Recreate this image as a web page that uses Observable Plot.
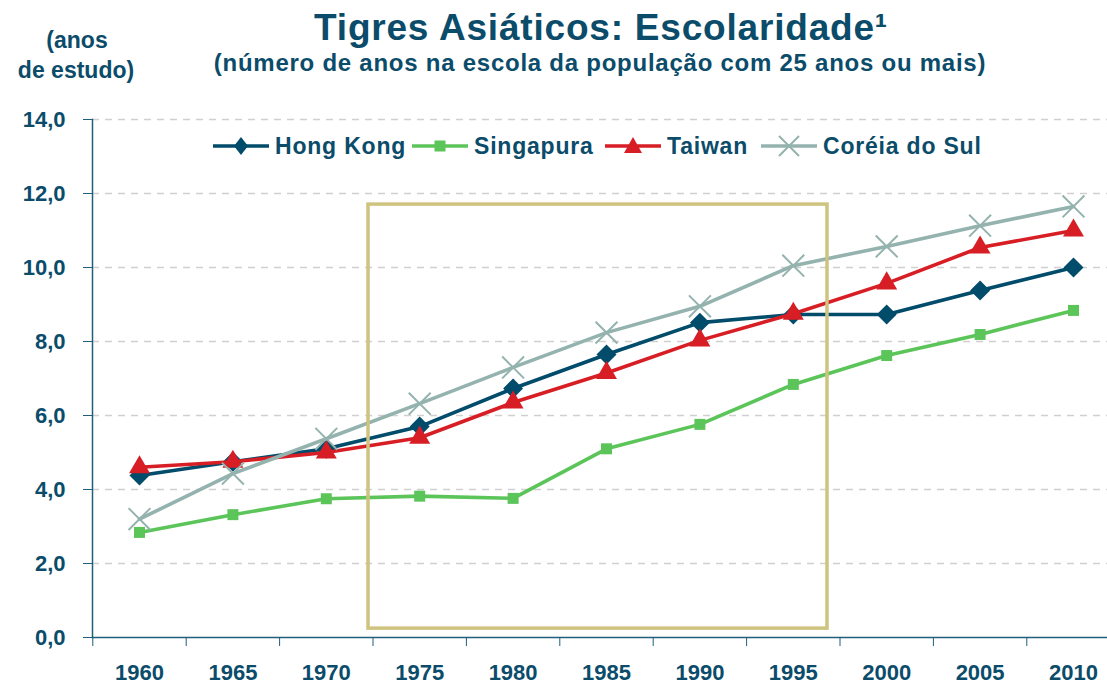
<!DOCTYPE html>
<html>
<head>
<meta charset="utf-8">
<script src="https://cdn.jsdelivr.net/npm/d3@7"></script>
<script src="https://cdn.jsdelivr.net/npm/@observablehq/plot@0.6"></script>
<style>
  body { margin: 0; background: #fff; overflow: hidden; }
  #wrap { position: relative; width: 1107px; height: 686px; overflow: hidden;
          font-family: "Liberation Sans", Arial, sans-serif; font-weight: bold; color: #0b4c6a; }
  #head { position: relative; height: 100px; }
  .t { position: absolute; white-space: nowrap; line-height: 1; }
  #title { left: 0; width: 1202px; text-align: center; font-size: 37px; top: 9px; letter-spacing: 0.8px; }
  #subtitle { left: 0; width: 1200px; text-align: center; font-size: 24px; top: 51px; letter-spacing: 0.75px; }
  #unit1 { left: 0; width: 154px; text-align: center; font-size: 23px; top: 29px; }
  #unit2 { left: 0; width: 152px; text-align: center; font-size: 23px; top: 59px; }
  .leg { position: absolute; top: 132px; height: 28px; display: flex; align-items: center; }
  .leg span { font-size: 23px; letter-spacing: 0.8px; line-height: 1; }
  #chart svg { display: block; }
</style>
</head>
<body>
<div id="wrap">
  <div id="head">
    <div class="t" id="title">Tigres Asiáticos: Escolaridade¹</div>
    <div class="t" id="subtitle">(número de anos na escola da população com 25 anos ou mais)</div>
    <div class="t" id="unit1">(anos</div>
    <div class="t" id="unit2">de estudo)</div>
  </div>
  <div id="legend"></div>
  <div id="chart"></div>
</div>
<script>
// ---- data ----
const years = [1960, 1965, 1970, 1975, 1980, 1985, 1990, 1995, 2000, 2005, 2010];
const hongKong  = [4.38, 4.75, 5.10, 5.70, 6.73, 7.65, 8.51, 8.73, 8.73, 9.38, 10.00];
const singapura = [2.84, 3.32, 3.75, 3.82, 3.76, 5.10, 5.76, 6.84, 7.62, 8.19, 8.84];
const taiwan    = [4.60, 4.75, 5.00, 5.40, 6.35, 7.15, 8.03, 8.75, 9.57, 10.54, 11.00];
const coreia    = [3.20, 4.43, 5.37, 6.32, 7.30, 8.24, 8.95, 10.05, 10.57, 11.13, 11.65];
const seriesNames = ["Hong Kong", "Singapura", "Taiwan", "Coréia do Sul"];
const yTicks = [0, 2, 4, 6, 8, 10, 12, 14];
const xBandEdges = [1957.5, 1962.5, 1967.5, 1972.5, 1977.5, 1982.5, 1987.5, 1992.5, 1997.5, 2002.5, 2007.5];
// highlighted period box (years / anos)
const highlight = [{x1: 1972.26, x2: 1996.83, y1: 0.24, y2: 11.70}];

// ---- styles ----
const textColor = "#0b4c6a";
const styles = {
  "Hong Kong":     {color: "#014b6b", symbol: "diamond2", r: 9},
  "Singapura":     {color: "#5cc55a", symbol: "square2", r: 7},
  "Taiwan":        {color: "#d81e25", symbol: "triangle2", r: 10},
  "Coréia do Sul": {color: "#94b3ae", symbol: "times", r: 10}
};

const valuesBySeries = {"Hong Kong": hongKong, "Singapura": singapura, "Taiwan": taiwan, "Coréia do Sul": coreia};
const table = seriesNames.flatMap(name => years.map((year, i) => ({series: name, year, value: valuesBySeries[name][i]})));
const drawOrder = ["Singapura", "Hong Kong", "Taiwan", "Coréia do Sul"];

const marks = [
  Plot.gridY(yTicks.filter(d => d > 0), {stroke: "#d0d0d0", strokeOpacity: 1, strokeWidth: 1.5, strokeDasharray: "7,6"})
];
for (const name of drawOrder) {
  const data = table.filter(d => d.series === name);
  const s = styles[name];
  marks.push(Plot.line(data, {x: "year", y: "value", stroke: s.color, strokeWidth: 3.6}));
  if (s.symbol === "times") {
    marks.push(Plot.dot(data, {x: "year", y: "value", symbol: "times", r: s.r, stroke: s.color, strokeWidth: 2}));
  } else {
    marks.push(Plot.dot(data, {x: "year", y: "value", symbol: s.symbol, r: s.r, fill: s.color, stroke: "none"}));
  }
}
marks.push(Plot.rect(highlight, {x1: "x1", x2: "x2", y1: "y1", y2: "y2", fill: "none", stroke: "#cec37f", strokeWidth: 3.5}));
marks.push(Plot.frame({anchor: "left", stroke: "#1f5f7c", strokeWidth: 1.5}));
marks.push(Plot.frame({anchor: "bottom", stroke: "#1f5f7c", strokeWidth: 1.5}));
marks.push(Plot.axisY({ticks: yTicks, tickSize: 9, tickPadding: 18, stroke: "#1f5f7c",
  tickFormat: d => d.toFixed(1).replace(".", ","), fontSize: 22, label: null}));
marks.push(Plot.axisX({ticks: xBandEdges, tickSize: 9, tickFormat: () => "", stroke: "#1f5f7c", label: null}));
marks.push(Plot.axisX({ticks: years, tickSize: 0, tickPadding: 27, tickFormat: d => String(d), fontSize: 22, label: null}));

const chart = Plot.plot({
  width: 1107,
  height: 586,
  marginLeft: 92,
  marginRight: 0,
  marginTop: 19,
  marginBottom: 49,
  style: {fontFamily: '"Liberation Sans", Arial, sans-serif', fontWeight: "bold", color: textColor, background: "#fff", overflow: "visible"},
  x: {type: "linear", domain: [1957.5, 2012.5], range: [92.3, 1119.7]},
  y: {domain: [0, 14], grid: false},
  marks
});
document.getElementById("chart").appendChild(chart);

// ---- legend ----
const legendPos = {"Hong Kong": 213, "Singapura": 412, "Taiwan": 605, "Coréia do Sul": 761};
function swatch(name) {
  const s = styles[name];
  let m = "";
  if (s.symbol === "diamond2") m = `<path d="M28,5 L35,14 L28,23 L21,14 Z" fill="${s.color}"/>`;
  if (s.symbol === "square2") m = `<rect x="22.5" y="8.5" width="11" height="11" fill="${s.color}"/>`;
  if (s.symbol === "triangle2") m = `<path d="M28,5 L37,21 L19,21 Z" fill="${s.color}"/>`;
  if (s.symbol === "times") m = `<path d="M18,4 L38,24 M18,24 L38,4" stroke="${s.color}" stroke-width="2"/>`;
  return `<svg width="56" height="28" style="margin-right:6px"><line x1="0" x2="56" y1="14" y2="14" stroke="${s.color}" stroke-width="3.6"/>${m}</svg>`;
}
const legend = document.getElementById("legend");
for (const name of seriesNames) {
  const div = document.createElement("div");
  div.className = "leg";
  div.style.left = legendPos[name] + "px";
  div.innerHTML = swatch(name) + `<span>${name}</span>`;
  legend.appendChild(div);
}
</script>
</body>
</html>
